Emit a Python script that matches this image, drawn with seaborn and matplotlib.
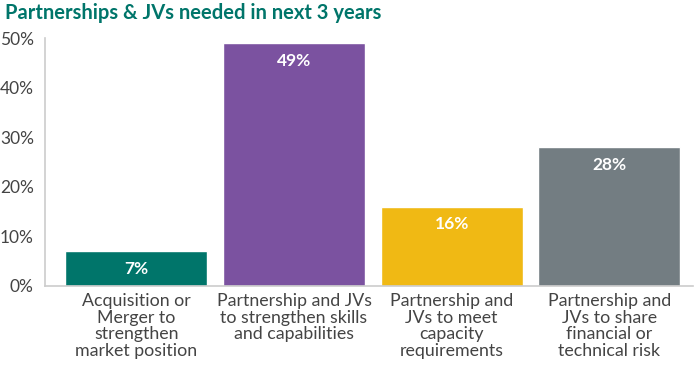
import matplotlib
matplotlib.use("Agg")
import matplotlib.pyplot as plt
import seaborn as sns
import pandas as pd

categories = [
    "Acquisition or\nMerger to\nstrengthen\nmarket position",
    "Partnership and JVs\nto strengthen skills\nand capabilities",
    "Partnership and\nJVs to meet\ncapacity\nrequirements",
    "Partnership and\nJVs to share\nfinancial or\ntechnical risk",
]
values = [7, 49, 16, 28]
colors = ["#00756A", "#7B52A0", "#F0B914", "#737D82"]
yticks = [0, 10, 20, 30, 40, 50]

sns.set_theme(style="white")
plt.rcParams["font.family"] = ["Lato", "DejaVu Sans"]

df = pd.DataFrame({"cat": categories, "val": values})

fig = plt.figure(figsize=(6.95, 3.74), dpi=100)
ax = fig.add_axes([0.0647, 0.2353, 0.9323, 0.6627])
sns.barplot(data=df, x="cat", y="val", hue="cat", palette=colors,
            width=0.9, legend=False, ax=ax, saturation=1)

for i, v in enumerate(values):
    ax.text(i, v - 1.9, f"{v}%", ha="center", va="top", color="white",
            fontsize=12.5, fontweight="bold")

ax.set_ylim(0, 50)
ax.set_xlim(-0.58, 3.53)
ax.set_yticks(yticks)
ax.set_yticklabels([f"{t}%" for t in yticks], fontsize=12.5, color="#444444")
ax.tick_params(axis="y", direction="in", length=13, color="#cccccc", width=1, pad=8)
ax.tick_params(axis="x", length=0, pad=5)
ax.set_xticks(range(len(categories)))
ax.set_xticklabels(categories, fontsize=12.8, color="#444444", linespacing=1.05)
ax.set_xlabel("")
ax.set_ylabel("")
for s in ["top", "right"]:
    ax.spines[s].set_visible(False)
for s in ["left", "bottom"]:
    ax.spines[s].set_color("#cccccc")
    ax.spines[s].set_linewidth(1.2)

fig.text(0.007, 0.965, "Partnerships & JVs needed in next 3 years", fontsize=14.5,
         fontweight="bold", color="#00756A", ha="left", va="center")

fig.savefig("out.png", dpi=100)
